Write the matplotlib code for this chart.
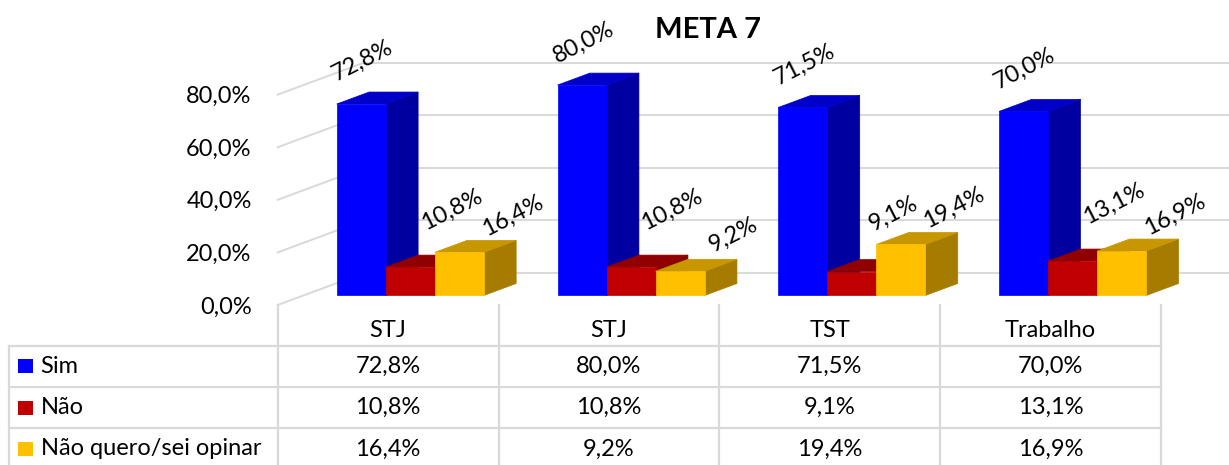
import matplotlib.pyplot as plt
from matplotlib.patches import Polygon, Rectangle

# data
categories = ["STJ", "STJ", "TST", "Trabalho"]
series = ["Sim", "Não", "Não quero/sei opinar"]
sim = [72.8, 80.0, 71.5, 70.0]
nao = [10.8, 10.8, 9.1, 13.1]
nao_sei = [16.4, 9.2, 19.4, 16.9]
y_ticks = [0, 20, 40, 60, 80]

values = [sim, nao, nao_sei]

# colours: front, top, side
colors = [
    ("#0000FF", "#0000C8", "#0000A0"),
    ("#C00000", "#900000", "#8A0000"),
    ("#FFC000", "#C89600", "#A67C00"),
]
grid_c = "#D9D9D9"

# layout (pixels of the 1229x465 picture)
W, H = 1229, 465
X0, Y0 = 277.7, 305.0       # front-left corner of the floor
PX_X, PX_Y = 220.8, 2.63    # px per category, px per percent
DX = 86.4 / PX_X            # full floor depth in data units
DY = 32.0 / PX_Y
D_FRONT, D_BACK = 0.297, 0.672
BAR_W, GROUP_OFF = 0.222, 0.151
label_off = [(-15, 37), (25, 52), (37, 31)]


def fmt(v):
    return f"{v:.1f}%".replace(".", ",")


def proj(x, y, d):
    return (x + d * DX, y + d * DY)


plt.rcParams["font.family"] = ["Lato", "DejaVu Sans"]
plt.rcParams["font.size"] = 17

fig = plt.figure(figsize=(W / 100, H / 100), dpi=100)
ax = fig.add_axes([0, 0, 1, 1])
ax.set_xlim(-X0 / PX_X, (W - X0) / PX_X)
ax.set_ylim((Y0 - H) / PX_Y, Y0 / PX_Y)
ax.axis("off")

x_right = (W - X0) / PX_X
for t in y_ticks:
    a = proj(0, t, 0)
    b = proj(0, t, 1)
    ax.plot([a[0], b[0]], [a[1], b[1]], color=grid_c, lw=1.4, zorder=1)
    ax.plot([b[0], x_right], [b[1], b[1]], color=grid_c, lw=1.4, zorder=1)
    ax.annotate(fmt(t), (0, t), xytext=(-26, -2), textcoords="offset pixels",
                ha="right", va="center")

z = 2
for i in range(len(categories)):
    for j, vals in enumerate(values):
        v = vals[i]
        x0 = i + GROUP_OFF + j * BAR_W
        x1 = x0 + BAR_W
        front = [proj(x0, 0, D_FRONT), proj(x1, 0, D_FRONT),
                 proj(x1, v, D_FRONT), proj(x0, v, D_FRONT)]
        side = [proj(x1, 0, D_FRONT), proj(x1, 0, D_BACK),
                proj(x1, v, D_BACK), proj(x1, v, D_FRONT)]
        top = [proj(x0, v, D_FRONT), proj(x1, v, D_FRONT),
               proj(x1, v, D_BACK), proj(x0, v, D_BACK)]
        fc, tc, sc = colors[j]
        for pts, c in ((side, sc), (top, tc), (front, fc)):
            ax.add_patch(Polygon(pts, closed=True, facecolor=c, edgecolor=c,
                                 lw=0.5, zorder=z))
        z += 1
        cx, cy = proj((x0 + x1) / 2, v, (D_FRONT + D_BACK) / 2)
        ax.annotate(fmt(v), (cx, cy), xytext=label_off[j],
                    textcoords="offset pixels", ha="center", va="center",
                    rotation=27, rotation_mode="anchor", zorder=50)

fig.text(708 / W, 1 - 29.5 / H, "META 7", ha="center", va="center",
         fontsize=21, fontweight="bold")

# data table
ROW_TOP, ROW_H = 345.7, 41.3
tab = fig.add_axes([0, 0, 1, 1])
tab.patch.set_alpha(0)
tab.axis("off")
tab.set_xlim(ax.get_xlim())
tab.set_ylim((H - ROW_TOP) / ROW_H, -ROW_TOP / ROW_H)
x_left = (9 - X0) / PX_X
r_floor = (Y0 - ROW_TOP) / ROW_H
n = len(categories)
for k in range(n + 1):
    tab.plot([k, k], [r_floor, 3.2], color=grid_c, lw=1.6)
tab.plot([x_left, x_left], [0, 3.2], color=grid_c, lw=1.6)
for r in range(3):
    tab.plot([x_left, n], [r, r], color=grid_c, lw=1.6)

for i, cat in enumerate(categories):
    tab.text(i + 0.5, -0.38, cat, ha="center", va="center")
    for j, vals in enumerate(values):
        tab.text(i + 0.5, j + 0.5, fmt(vals[i]), ha="center", va="center")

sq_x = (18.3 - X0) / PX_X
sq_w = 14.4 / PX_X
sq_h = 14 / ROW_H
for j, name in enumerate(series):
    tab.add_patch(Rectangle((sq_x, j + 0.5 - sq_h / 2), sq_w, sq_h,
                            facecolor=colors[j][0], edgecolor="none"))
    tab.text((40.7 - X0) / PX_X, j + 0.5, name, ha="left", va="center")

fig.savefig("out.png", dpi=100)
plt.close(fig)
